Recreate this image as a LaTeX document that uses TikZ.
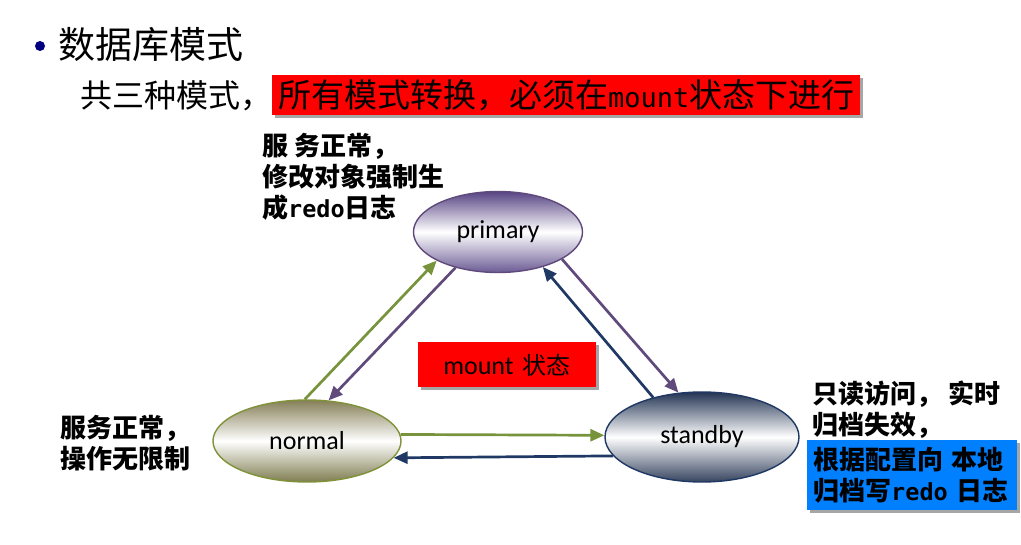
\documentclass[tikz,border=0pt]{standalone}
\usepackage{fontspec}
\setmainfont{Noto Sans CJK SC}
\newfontfamily\calib{Carlito}
\newfontfamily\monof{DejaVu Sans Mono}
\usetikzlibrary{shapes.geometric,arrows.meta,shadows}

\definecolor{bulletblue}{HTML}{000080}
\definecolor{linegreen}{HTML}{77933C}
\definecolor{lineviolet}{HTML}{604A7B}
\definecolor{linenavy}{HTML}{1F3864}
\definecolor{boxred}{HTML}{FF0000}
\definecolor{boxblue}{HTML}{0080FF}
\definecolor{primtop}{HTML}{574483}
\definecolor{primbot}{HTML}{6B5B94}
\definecolor{normtop}{HTML}{857F57}
\definecolor{normbot}{HTML}{7F7D50}
\definecolor{normline}{HTML}{7F9238}
\definecolor{standtop}{HTML}{233453}
\definecolor{standbot}{HTML}{36445F}

\tikzset{
  mode/.style={ellipse, inner sep=0pt, line width=1.4pt,
    font=\calib\fontsize{26}{30}\selectfont},
  conn/.style={line width=2.7pt, -{Triangle[length=14pt,width=12pt]}},
  boxshadow/.style={drop shadow={shadow xshift=3pt, shadow yshift=-3pt,
    fill=black, opacity=0.35}},
  note/.style={inner sep=0pt, align=left,
    font=\bfseries\fontsize{26}{31}\selectfont},
}

\begin{document}
\begin{tikzpicture}[x=1pt,y=-1pt]
  \useasboundingbox (0,0) rectangle (1021,545);

  % heading
  \fill[bulletblue] (40,46) circle (5);
  \node[anchor=west, inner sep=0pt, font=\fontsize{37}{44}\selectfont]
    (title) at (58,45) {数据库模式};
  \node[anchor=west, inner sep=0pt, font=\fontsize{32}{38}\selectfont]
    (sub) at (80,96) {共三种模式，};
  \node[anchor=west, fill=boxred, inner xsep=6pt, inner ysep=0pt,
        minimum height=40pt, boxshadow, font=\fontsize{33}{40}\selectfont]
    (rule) at (272,95)
    {所有模式转换，必须在{\monof\fontsize{27}{40}\selectfont mount}状态下进行};

  % the three modes
  \node[mode, minimum width=169pt, minimum height=81pt, draw=lineviolet,
        top color=primtop, bottom color=primbot,
        middle color=white] (primary) at (498,232) {primary};
  \node[mode, minimum width=188pt, minimum height=82pt, draw=normline,
        top color=normtop, bottom color=normbot,
        middle color=white] (normal) at (307,441) {normal};
  \node[mode, minimum width=194pt, minimum height=90pt, draw=linenavy,
        top color=standtop, bottom color=standbot,
        middle color=white] (standby) at (702,437) {standby};

  % mode transitions
  \draw[conn, linegreen]  (normal.93)    -- (primary.205);
  \draw[conn, lineviolet] (primary.220)  -- (normal.62);
  \draw[conn, linenavy]   (standby.141)  -- (primary.322);
  \draw[conn, lineviolet] (primary.337)  -- (standby.118);
  \draw[conn, linegreen]  (normal.4)     -- (standby.179);
  \draw[conn, linenavy]   (standby.192.7) -- (normal.349.7);

  % centre label
  \node[fill=boxred, minimum width=178pt, minimum height=45pt, inner sep=0pt,
        boxshadow] (mount) at (507,365)
    {{\calib\fontsize{26}{30}\selectfont mount}\hspace{9pt}{\fontsize{24}{30}\selectfont 状态}};

  % notes
  \node[note, anchor=west] (primarynote) at (262,177)
    {服 务正常，\\修改对象强制生\\成{\monof\fontsize{23.5}{31}\selectfont redo}日志};
  \node[note, anchor=west] (normalnote) at (60,443)
    {服务正常，\\操作无限制};
  \node[note, anchor=west] (standbynote) at (812,410)
    {只读访问，\ 实时\\归档失效，};
  \node[note, anchor=north west, fill=boxblue, inner xsep=6pt, inner ysep=0pt,
        minimum width=210pt, minimum height=70pt, text width=198pt, boxshadow]
    (redonote) at (807,440)
    {根据配置向 本地\\归档写{\monof\fontsize{23.5}{31}\selectfont redo} 日志};
\end{tikzpicture}
\end{document}
